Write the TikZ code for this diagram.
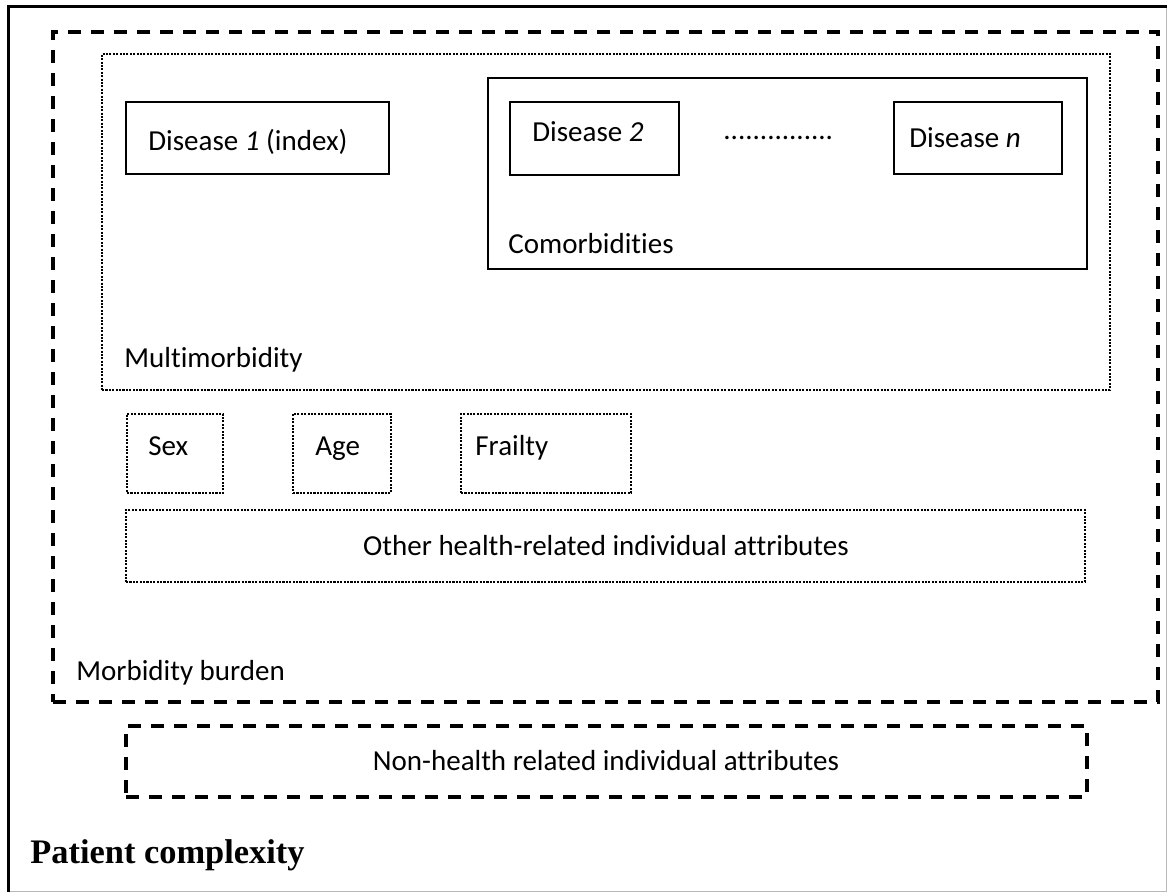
\documentclass[tikz,border=0pt]{standalone}
\usepackage{fontspec}
\setmainfont{Carlito}[Ligatures={NoCommon,NoRequired,NoContextual}]
\newfontfamily\pcfont{Liberation Serif}
\usetikzlibrary{fit}
\begin{document}
\begin{tikzpicture}[x=0.5pt,y=-0.5pt,
  every node/.style={font=\fontsize{14.5}{17}\selectfont, inner sep=0pt},
  solidbox/.style={draw, line width=1pt, inner sep=0pt},
  dashbox/.style={draw, line width=1.65pt, dash pattern=on 6.5pt off 5pt, inner sep=0pt},
  dotbox/.style={draw, line width=1.05pt, dash pattern=on 1.05pt off 0.65pt, inner sep=0pt},
  lbl/.style={anchor=base west},
  ctr/.style={anchor=base},
]
\useasboundingbox (0,0) rectangle (1168,893);
% outer frame
\node[draw=gray!55, line width=0.5pt, fit={(9,7)(1166,891)}] (outer) {};
\draw[line width=1.6pt] (outer.south west) -- (outer.north west) -- (outer.north east);
% morbidity burden
\node[dashbox, fit={(53,32)(1158,702)}] (burden) {};
% multimorbidity
\node[dotbox, fit={(102,54)(1110,390)}] (multi) {};
% disease 1
\node[solidbox, fit={(126,102)(389,174)}] (d1box) {};
% comorbidities
\node[solidbox, fit={(488,78)(1087,269)}] (combox) {};
\node[solidbox, fit={(510,102)(679,175)}] (d2box) {};
\node[solidbox, fit={(894,102)(1062,174)}] (dnbox) {};
% sex age frailty
\node[dotbox, fit={(127,414)(223,493)}] (sexbox) {};
\node[dotbox, fit={(293,414)(391,493)}] (agebox) {};
\node[dotbox, fit={(461,414)(631,493)}] (frailbox) {};
% other health
\node[dotbox, fit={(126,510)(1085,582)}] (otherbox) {};
% non-health
\node[dashbox, fit={(126,726)(1087,797)}] (nonbox) {};

% texts
\node[lbl] (d1) at (148,151) {Disease \textit{1} (index)};
\node[lbl] (d2) at (532,142) {Disease \textit{2}};
\node[lbl] (dots) at (723,140) {...............};
\node[lbl] (dn) at (909,148) {Disease \textit{n}};
\node[lbl] (com) at (508,254) {Comorbidities};
\node[lbl] (mul) at (124,368) {Multimorbidity};
\node[lbl] (sex) at (148,455) {Sex};
\node[lbl] (age) at (315,455) {Age};
\node[lbl] (frail) at (475,455) {Frailty};
\node[ctr] (other) at (606,555) {Other health-related individual attributes};
\node[lbl] (burd) at (76,680) {Morbidity burden};
\node[ctr] (non) at (606,770) {Non-health related individual attributes};
\node[lbl, font=\pcfont\bfseries\fontsize{17.2}{20}\selectfont] (pc) at (30,863) {Patient complexity};
\end{tikzpicture}
\end{document}
